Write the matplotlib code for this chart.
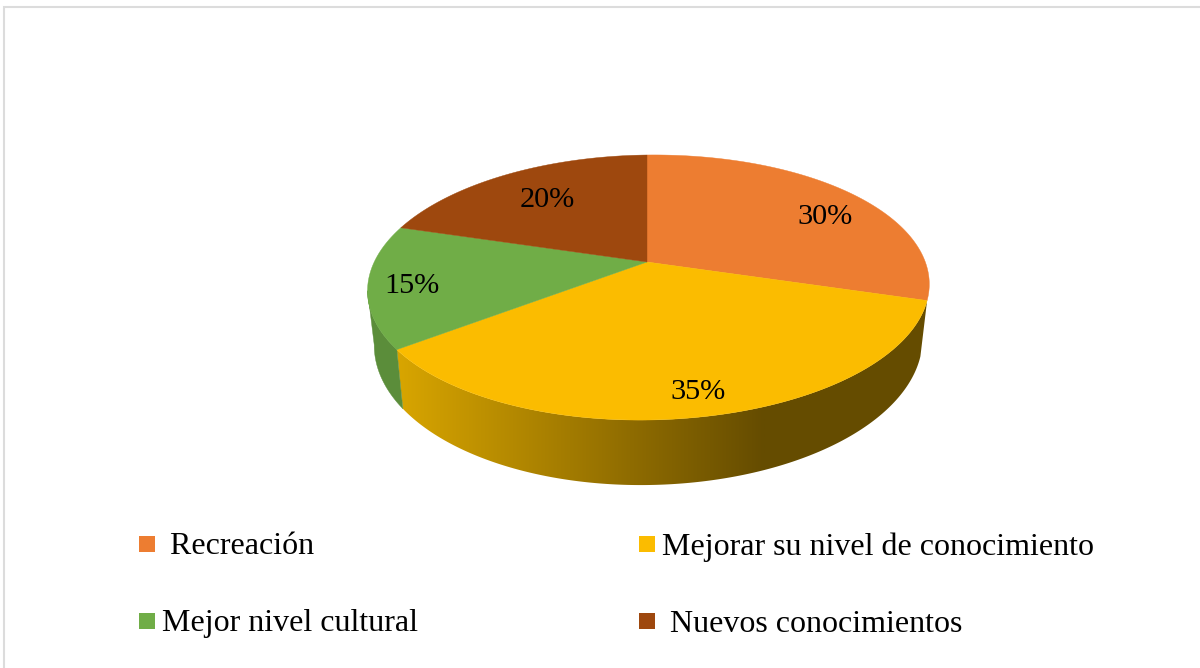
import numpy as np
import matplotlib
matplotlib.use("Agg")
import matplotlib.pyplot as plt
from matplotlib.patches import Polygon, Rectangle
from matplotlib.colors import LinearSegmentedColormap

# --- data ---
categories = [" Recreación", "Mejorar su nivel de conocimiento", "Mejor nivel cultural", " Nuevos conocimientos"]
values = [30, 35, 15, 20]
pct_labels = ["30%", "35%", "15%", "20%"]
colors = ["#ED7D31", "#FBBC00", "#70AD47", "#9E480E"]

# --- look of the perspective pie (in figure pixels) ---
CX, CY = 647, 262
A, B, K = 277, 127.6, -0.1925
DEPTH = 52.5
INSET = 0.976
SHEAR = -0.012
LEFT_SCALE = 0.99
W, H = 1200, 668
SERIF = "Liberation Serif"
FS_PCT = 21.8
FS_LEG = 23


def rim(theta_deg, lower=False):
    """Project points of the unit disc rim; theta runs clockwise from 12 o'clock."""
    t = np.radians(np.asarray(theta_deg, float))
    u, v = np.sin(t), -np.cos(t)
    w = 1 + K * v
    s = INSET if lower else 1.0
    dx = s * A * u / w
    y = CY + B * v / w + (DEPTH / w if lower else 0) + SHEAR * dx
    x = CX + np.where(dx < 0, LEFT_SCALE, 1.0) * dx
    return np.column_stack([x, y])


fig = plt.figure(figsize=(W / 100, H / 100), dpi=100)
ax = fig.add_axes([0, 0, 1, 1])
ax.set_xlim(0, W)
ax.set_ylim(H, 0)
ax.axis("off")

# frame
ax.plot([4, 4, W], [H, 7, 7], color="#DCDCDC", lw=1.5, solid_joinstyle="miter")

edges = np.cumsum([0] + values) / sum(values) * 360.0

# side wall: yellow slice with gradient
t_y = np.linspace(edges[1], edges[2], 200)
wall_y = np.vstack([rim(t_y), rim(t_y[::-1], lower=True)])
poly_y = Polygon(wall_y, closed=True, facecolor="none", edgecolor="none")
ax.add_patch(poly_y)
cmap = LinearSegmentedColormap.from_list(
    "side", [(0.0, "#D9A600"), (0.68, "#8A6800"), (1.0, "#654C00")])
grad = np.linspace(0, 1, 512).reshape(1, -1)
x0, x1 = 395, 765
im = ax.imshow(grad, extent=[x0, x1, H, 0], cmap=cmap, aspect="auto", zorder=1, interpolation="bilinear")
im_r = ax.imshow(np.ones((1, 2)), extent=[x1, 940, H, 0], cmap=cmap, vmin=0, vmax=1, aspect="auto", zorder=1)
im.set_clip_path(poly_y)
im_r.set_clip_path(poly_y)
ax.set_xlim(0, W)
ax.set_ylim(H, 0)

# side wall: green slice, up to its silhouette
t_g = np.linspace(edges[2], 259, 60)
ax.add_patch(Polygon(np.vstack([rim(t_g), rim(t_g[::-1], lower=True)]),
                     closed=True, facecolor="#5B8D3A", edgecolor="#5B8D3A", lw=0.3, zorder=1))

# top face
apex = np.array([[CX, CY]])
for i, c in enumerate(colors):
    t = np.linspace(edges[i], edges[i + 1], 200)
    ax.add_patch(Polygon(np.vstack([apex, rim(t)]), closed=True,
                         facecolor=c, edgecolor=c, lw=0.3, zorder=2))

# percentage labels
lab_xy = [(825, 217), (698, 392), (412, 286), (547, 200)]
for (x, y), s in zip(lab_xy, pct_labels):
    ax.text(x, y, s, family=SERIF, fontsize=FS_PCT, ha="center", va="center", color="black", zorder=3)

# legend
leg_sq = [(139, 536), (639, 536), (139, 613), (639, 613)]
leg_tx = [(162, 554.5), (662, 554.5), (162, 631.5), (662, 631.5)]
for (sx, sy), (tx, ty), c, name in zip(leg_sq, leg_tx, colors, categories):
    ax.add_patch(Rectangle((sx, sy), 16, 16, facecolor=c, edgecolor="none", zorder=3))
    ax.text(tx, ty, name, family=SERIF, fontsize=FS_LEG, ha="left", va="baseline", color="black", zorder=3)

fig.savefig("out.png", dpi=100, facecolor="white")
